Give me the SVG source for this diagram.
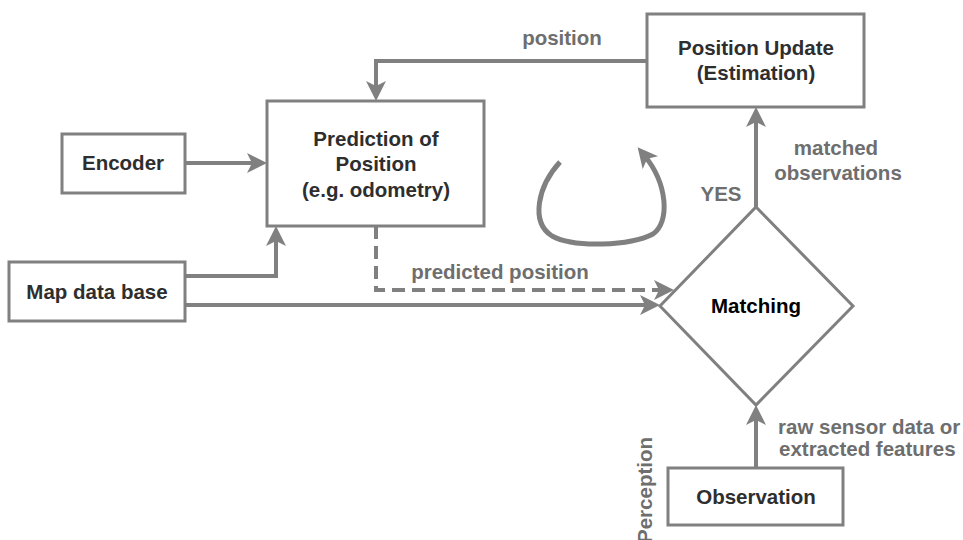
<svg xmlns="http://www.w3.org/2000/svg" width="963" height="540" viewBox="0 0 963 540">
  <style>
    .box { fill: #ffffff; stroke: #808080; stroke-width: 3; }
    .node { font-family: "Liberation Sans", Arial, sans-serif; font-weight: bold; font-size: 20.5px; fill: #2e2e2e; text-anchor: middle; }
    .label { font-family: "Liberation Sans", Arial, sans-serif; font-weight: bold; font-size: 20.5px; fill: #6e6e6e; }
    .edge { fill: none; stroke: #808080; stroke-width: 4; }
    .dash { stroke-dasharray: 13 7; }
  </style>
  <defs>
    <marker id="arrow" markerUnits="userSpaceOnUse" markerWidth="22" markerHeight="22" viewBox="0 0 22 22" refX="10" refY="11" orient="auto">
      <path d="M0,1 L20,11 L0,21 L5,11 Z" fill="#808080"/>
    </marker>
  </defs>

  <rect width="963" height="540" fill="#ffffff"/>

  <!-- connectors -->
  <g id="connectors">
    <!-- position feedback -->
    <path class="edge" d="M647,61 H376 V91" marker-end="url(#arrow)"/>
    <!-- encoder to prediction -->
    <path class="edge" d="M185,163 H257" marker-end="url(#arrow)"/>
    <!-- map data base to prediction -->
    <path class="edge" d="M185,276 H276 V236" marker-end="url(#arrow)"/>
    <!-- map data base to matching -->
    <path class="edge" d="M185,305 H650" marker-end="url(#arrow)"/>
    <!-- predicted position (dashed) -->
    <path class="edge dash" d="M376,226 V290 H660" />
    <path class="edge" d="M660,290 H664" marker-end="url(#arrow)"/>
    <!-- matching to position update -->
    <path class="edge" d="M756,207 V117" marker-end="url(#arrow)"/>
    <!-- observation to matching -->
    <path class="edge" d="M756,468 V415" marker-end="url(#arrow)"/>
    <!-- loop symbol -->
    <path class="edge" style="stroke-width:5" d="M560,162 C538,186 530,222 552,236 C574,248 630,246 653,234 C670,222 668,184 644,155" marker-end="url(#arrow)"/>
  </g>

  <!-- nodes -->
  <g id="position-update">
    <rect class="box" x="647" y="14" width="217" height="93"/>
    <text class="node" x="756" y="55">Position Update</text>
    <text class="node" x="756" y="80">(Estimation)</text>
  </g>
  <g id="prediction">
    <rect class="box" x="267" y="101" width="217" height="125"/>
    <text class="node" x="376" y="146">Prediction of</text>
    <text class="node" x="376" y="171">Position</text>
    <text class="node" x="376" y="197">(e.g. odometry)</text>
  </g>
  <g id="encoder">
    <rect class="box" x="62" y="134" width="123" height="59"/>
    <text class="node" x="123" y="170">Encoder</text>
  </g>
  <g id="map-data-base">
    <rect class="box" x="9" y="262" width="176" height="59"/>
    <text class="node" x="97" y="299">Map data base</text>
  </g>
  <g id="matching">
    <polygon class="box" points="756,207 853,306 756,405 660,306"/>
    <text class="node" x="756" y="313" style="fill:#000000">Matching</text>
  </g>
  <g id="observation">
    <rect class="box" x="668" y="468" width="175" height="57"/>
    <text class="node" x="756" y="504">Observation</text>
  </g>

  <!-- labels -->
  <g id="labels">
    <text class="label" x="562" y="45" text-anchor="middle">position</text>
    <text class="label" x="500" y="279" text-anchor="middle">predicted position</text>
    <text class="label" x="721" y="201" text-anchor="middle">YES</text>
    <text class="label" x="836" y="155" text-anchor="middle">matched</text>
    <text class="label" x="838" y="180" text-anchor="middle">observations</text>
    <text class="label" x="778" y="434">raw sensor data or</text>
    <text class="label" x="779" y="456">extracted features</text>
    <text class="label" transform="translate(652,437) rotate(-90)" text-anchor="end">Perception</text>
  </g>
</svg>
